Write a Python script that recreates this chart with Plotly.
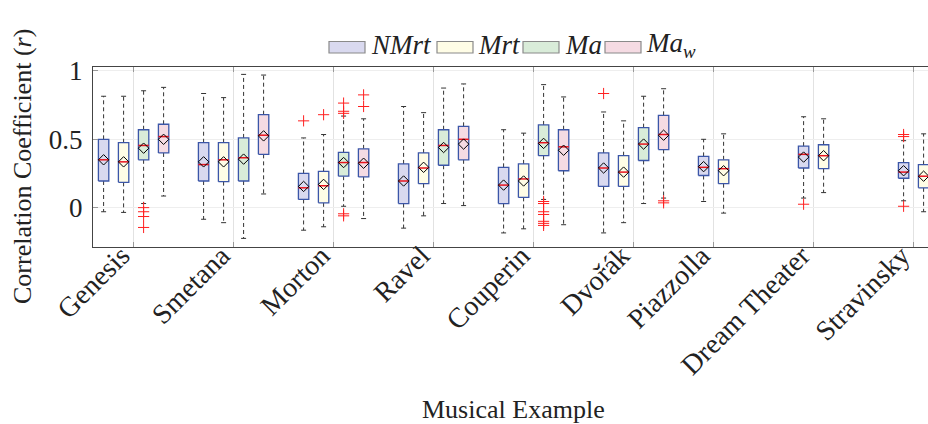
import plotly.graph_objects as go

# Musical examples on the x axis and where each group is centred
examples = ["Genesis", "Smetana", "Morton", "Ravel", "Couperin", "Dvořák",
            "Piazzolla", "Dream Theater", "Stravinsky"]
positions = [1, 2, 3, 4, 5, 6, 6.8, 7.8, 8.8]

# Box statistics per example: (lower whisker, Q1, median, Q3, upper whisker, mean)
nmrt_stats = [
    (-0.03, 0.195, 0.35, 0.50, 0.815, 0.35),
    (-0.085, 0.195, 0.315, 0.475, 0.835, 0.335),
    (-0.165, 0.06, 0.145, 0.25, 0.51, 0.155),
    (-0.15, 0.03, 0.195, 0.32, 0.74, 0.195),
    (-0.185, 0.03, 0.165, 0.295, 0.57, 0.165),
    (-0.185, 0.155, 0.29, 0.40, 0.70, 0.29),
    (0.045, 0.235, 0.295, 0.375, 0.50, 0.30),
    (0.07, 0.29, 0.39, 0.45, 0.665, 0.37),
    (0.05, 0.215, 0.26, 0.33, 0.49, 0.27),
]
mrt_stats = [
    (-0.035, 0.185, 0.335, 0.475, 0.815, 0.335),
    (-0.11, 0.19, 0.35, 0.475, 0.805, 0.335),
    (-0.14, 0.035, 0.16, 0.265, 0.535, 0.17),
    (-0.06, 0.175, 0.29, 0.40, 0.695, 0.295),
    (-0.155, 0.075, 0.21, 0.32, 0.545, 0.195),
    (-0.11, 0.155, 0.26, 0.38, 0.635, 0.26),
    (-0.04, 0.175, 0.285, 0.35, 0.54, 0.27),
    (0.11, 0.285, 0.38, 0.46, 0.65, 0.38),
    (-0.03, 0.145, 0.23, 0.315, 0.54, 0.23),
]
ma_stats = [
    (0.03, 0.35, 0.455, 0.57, 0.855, 0.435),
    (-0.225, 0.195, 0.365, 0.51, 0.975, 0.355),
    (0.01, 0.23, 0.33, 0.405, 0.67, 0.33),
    (0.03, 0.31, 0.455, 0.57, 0.875, 0.44),
    (0.06, 0.38, 0.475, 0.605, 0.90, 0.47),
    (0.03, 0.345, 0.465, 0.585, 0.815, 0.465),
    None, None, None,
]
maw_stats = [
    (0.085, 0.40, 0.52, 0.61, 0.88, 0.50),
    (0.10, 0.39, 0.53, 0.68, 0.97, 0.525),
    (-0.08, 0.225, 0.33, 0.43, 0.65, 0.325),
    (0.015, 0.35, 0.50, 0.595, 0.905, 0.465),
    (-0.125, 0.27, 0.445, 0.57, 0.81, 0.42),
    (0.07, 0.425, 0.535, 0.675, 0.87, 0.53),
    None, None, None,
]

# Outlying correlations per example
nmrt_outliers = [[], [], [0.635], [], [], [0.835], [], [0.025], [0.535, 0.52, 0.01]]
mrt_outliers = [[], [], [0.68], [], [], [], [], [], []]
ma_outliers = [[0.0, -0.03, -0.065, -0.145], [], [0.765, 0.705, 0.69, -0.045, -0.06], [],
               [0.045, 0.03, -0.03, -0.05, -0.10, -0.115, -0.13], [], [], [], []]
maw_outliers = [[], [], [0.825, 0.74], [], [], [0.05, 0.035], [], [], []]

series_names = ["NMrt", "Mrt", "Ma", "Ma_w"]
series_labels = ["<i>NMrt</i>", "<i>Mrt</i>", "<i>Ma</i>", "<i>Ma<sub>w</sub></i>"]
series_stats = [nmrt_stats, mrt_stats, ma_stats, maw_stats]
series_outliers = [nmrt_outliers, mrt_outliers, ma_outliers, maw_outliers]
fill_colors = ["#d9d9ef", "#fffde6", "#d9ecd9", "#f5dbe3"]

EDGE = "#3b56a8"
MEDIAN = "#e8141e"
FONT = "Liberation Serif"
BOX_W = 0.104
CAP_W = 0.05
SLOT = 0.2

fig = go.Figure()


def offsets_for(group):
    present = [s for s in range(4) if series_stats[s][group] is not None]
    n = len(present)
    return {s: (i - (n - 1) / 2) * SLOT for i, s in enumerate(present)}


# whiskers, caps, boxes, medians, means and outliers for each series
for s in range(4):
    wx, wy, cx, cy, bx, by, mx, my = [], [], [], [], [], [], [], []
    meanx, meany, ox, oy = [], [], [], []
    for g, st in enumerate(series_stats[s]):
        if st is None:
            continue
        lo, q1, med, q3, hi, mean = st
        x = positions[g] + offsets_for(g)[s]
        l, r = x - BOX_W / 2, x + BOX_W / 2
        wx += [x, x, None, x, x, None]
        wy += [q3, hi, None, q1, lo, None]
        cx += [x - CAP_W / 2, x + CAP_W / 2, None, x - CAP_W / 2, x + CAP_W / 2, None]
        cy += [hi, hi, None, lo, lo, None]
        bx += [l, r, r, l, l, None]
        by += [q1, q1, q3, q3, q1, None]
        mx += [l, r, None]
        my += [med, med, None]
        meanx.append(x)
        meany.append(mean)
        for o in series_outliers[s][g]:
            ox.append(x)
            oy.append(o)

    fig.add_trace(go.Scatter(x=wx, y=wy, mode="lines", hoverinfo="skip", showlegend=False,
                             line=dict(color="#333333", width=1, dash="4px,3px")))
    fig.add_trace(go.Scatter(x=cx, y=cy, mode="lines", hoverinfo="skip", showlegend=False,
                             line=dict(color="#333333", width=1)))
    fig.add_trace(go.Scatter(x=bx, y=by, mode="lines", fill="toself", fillcolor=fill_colors[s],
                             name=series_names[s], showlegend=False, hoverinfo="skip",
                             line=dict(color=EDGE, width=1.3)))
    fig.add_trace(go.Scatter(x=mx, y=my, mode="lines", hoverinfo="skip", showlegend=False,
                             line=dict(color=MEDIAN, width=1.5)))
    fig.add_trace(go.Scatter(x=meanx, y=meany, mode="markers", showlegend=False,
                             marker=dict(symbol="diamond-open", size=8, color="black",
                                         line=dict(width=1, color="black"))))
    fig.add_trace(go.Scatter(x=ox, y=oy, mode="markers", showlegend=False,
                             marker=dict(symbol="cross-thin-open", size=8, color="#ff2020",
                                         line=dict(width=1, color="#ff2020"))))

# plot-area geometry in pixels
W, H = 928, 424
L, R, T, B = 93, 0, 67, 177
PW, PH = W - L - R, H - T - B


def px(xp):
    return (xp - L) / PW


def py(yp):
    return (H - B - yp) / PH


# legend with wide swatches
leg_swatch_x = [329, 437, 523, 605]
leg_text_x = [369, 476, 563, 644]
shapes = []
annotations = []
for i in range(4):
    shapes.append(dict(type="rect", xref="paper", yref="paper",
                       x0=px(leg_swatch_x[i]), x1=px(leg_swatch_x[i] + 36),
                       y0=py(53), y1=py(41.5),
                       fillcolor=fill_colors[i], line=dict(color="#8a8a8a", width=1.2)))
    annotations.append(dict(xref="paper", yref="paper", x=px(leg_text_x[i]), y=py(45),
                            xanchor="left", yanchor="middle", showarrow=False,
                            text=series_labels[i], font=dict(family=FONT, size=27, color="#222")))

annotations.append(dict(xref="paper", yref="paper", x=px(513), y=py(409),
                        xanchor="center", yanchor="middle", showarrow=False,
                        text="Musical Example", font=dict(family=FONT, size=26, color="#222")))
annotations.append(dict(xref="paper", yref="paper", x=px(22), y=py(167),
                        xanchor="center", yanchor="middle", showarrow=False, textangle=-90,
                        text="Correlation Coefficient (<i>r</i>)",
                        font=dict(family=FONT, size=26, color="#222")))

fig.update_layout(
    width=W, height=H,
    margin=dict(l=L, r=R, t=T, b=B, pad=0),
    paper_bgcolor="white", plot_bgcolor="white",
    shapes=shapes, annotations=annotations,
    showlegend=False,
    font=dict(family=FONT, size=26, color="#222"),
)
fig.update_xaxes(
    range=[0.594, 0.594 + PW / 100],
    tickvals=positions, ticktext=examples, tickangle=-45,
    showgrid=True, gridcolor="#e2e2e2", gridwidth=1,
    showline=True, linecolor="#444", linewidth=1.2, mirror="allticks",
    ticks="inside", ticklen=5, tickcolor="#999",
    ticklabelstandoff=-20, ticklabelshift=-12,
    zeroline=False, tickfont=dict(family=FONT, size=28, color="#222"),
)
fig.update_yaxes(
    range=[-0.288, 1.029],
    tickvals=[0, 0.5, 1], ticktext=["0", "0.5", "1"],
    showgrid=True, gridcolor="#eeeeee", gridwidth=1,
    showline=True, linecolor="#444", linewidth=1.2, mirror=False,
    ticks="inside", ticklen=5, tickcolor="#999", ticklabelstandoff=4,
    zeroline=False, tickfont=dict(family=FONT, size=27, color="#222"),
)

fig.write_html("out.html")
